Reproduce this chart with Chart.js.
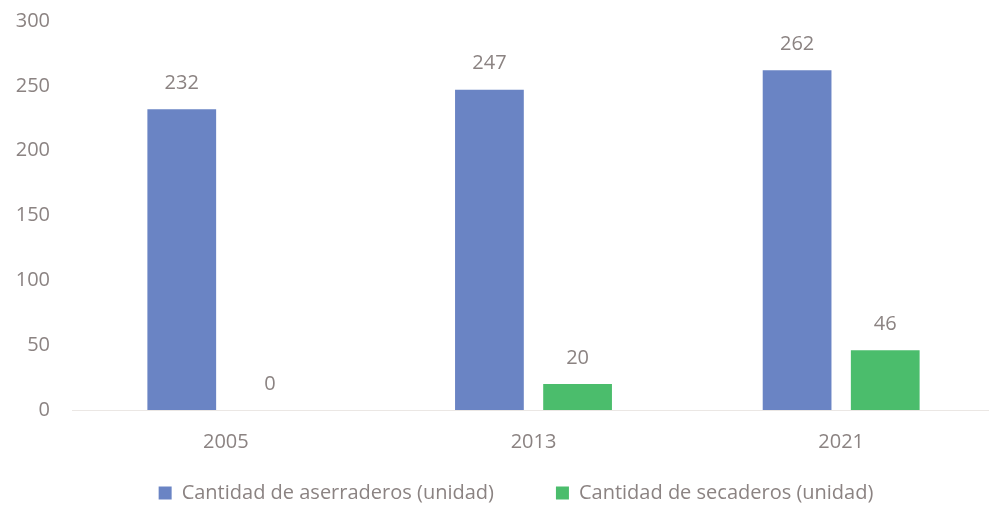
<!DOCTYPE html>
<html>
<head>
<meta charset="utf-8">
<script src="https://cdn.jsdelivr.net/npm/chart.js@4.4.1/dist/chart.umd.min.js"></script>
<style>
  html, body { margin: 0; padding: 0; background: #fff; overflow: hidden; }
  #wrap { width: 989px; height: 528px; overflow: hidden; position: relative; }
  #chart { position: absolute; left: 0; top: 0; }
</style>
</head>
<body>
<div id="wrap"><canvas id="chart" width="1032" height="528"></canvas></div>
<script>
// ── Data ──────────────────────────────────────────────
const years = ['2005', '2013', '2021'];
const aserraderos = [232, 247, 262];
const secaderos = [0, 20, 46];
const yTicks = [0, 50, 100, 150, 200, 250, 300];

const textGray = '#8b8382';
const fontFamily = "'Open Sans', sans-serif";
const fontSize = 20;

// value labels above each bar
const barLabels = {
    id: 'barLabels',
    afterLayout(chart) {
        // lift the legend closer to the axis (keeps the wide gap between items)
        chart.legend.top -= 53;
        chart.legend.bottom -= 53;
    },
    afterDatasetsDraw(chart) {
        const ctx = chart.ctx;
        ctx.save();
        ctx.fillStyle = textGray;
        ctx.font = fontSize + 'px ' + fontFamily;
        ctx.textAlign = 'center';
        ctx.textBaseline = 'middle';
        chart.data.datasets.forEach((ds, i) => {
            chart.getDatasetMeta(i).data.forEach((bar, j) => {
                ctx.fillText(String(ds.data[j]), bar.x, bar.y - 26);
            });
        });
        ctx.restore();
    }
};

const noPad = (scale) => {
    scale.paddingTop = 0; scale.paddingBottom = 0;
    scale.paddingLeft = 0; scale.paddingRight = 0;
};

new Chart(document.getElementById('chart'), {
    type: 'bar',
    data: {
        labels: years,
        datasets: [
            { label: 'Cantidad de aserraderos (unidad)', data: aserraderos, backgroundColor: '#6a84c4' },
            { label: 'Cantidad de secaderos (unidad)', data: secaderos, backgroundColor: '#4bbd6c' }
        ]
    },
    options: {
        responsive: false,
        animation: false,
        layout: { padding: { top: 21, right: 0, bottom: -38, left: 0 } },
        categoryPercentage: 0.573,
        barPercentage: 0.78,
        scales: {
            x: {
                afterFit: noPad,
                grid: { display: false, drawTicks: false },
                border: { color: '#ebe7e4', width: 1 },
                ticks: { color: textGray, padding: 20, font: { family: fontFamily, size: fontSize } }
            },
            y: {
                min: 0, max: 300,
                afterFit(scale) { noPad(scale); scale.width = 72; },
                afterBuildTicks(scale) { scale.ticks = yTicks.map(v => ({ value: v })); },
                grid: { display: false, drawTicks: false },
                border: { display: false },
                ticks: { color: textGray, padding: 22, font: { family: fontFamily, size: fontSize } }
            },
            // empty right gutter so the plot ends where the reference's does
            y2: {
                type: 'linear', position: 'right',
                afterFit(scale) { noPad(scale); scale.width = 37; },
                grid: { display: false, drawTicks: false },
                border: { display: false },
                ticks: { display: false }
            }
        },
        plugins: {
            legend: {
                position: 'bottom',
                labels: {
                    color: textGray,
                    boxWidth: 13, boxHeight: 13,
                    padding: 62,
                    font: { family: fontFamily, size: fontSize }
                }
            },
            tooltip: { enabled: false }
        }
    },
    plugins: [barLabels]
});
</script>
</body>
</html>
